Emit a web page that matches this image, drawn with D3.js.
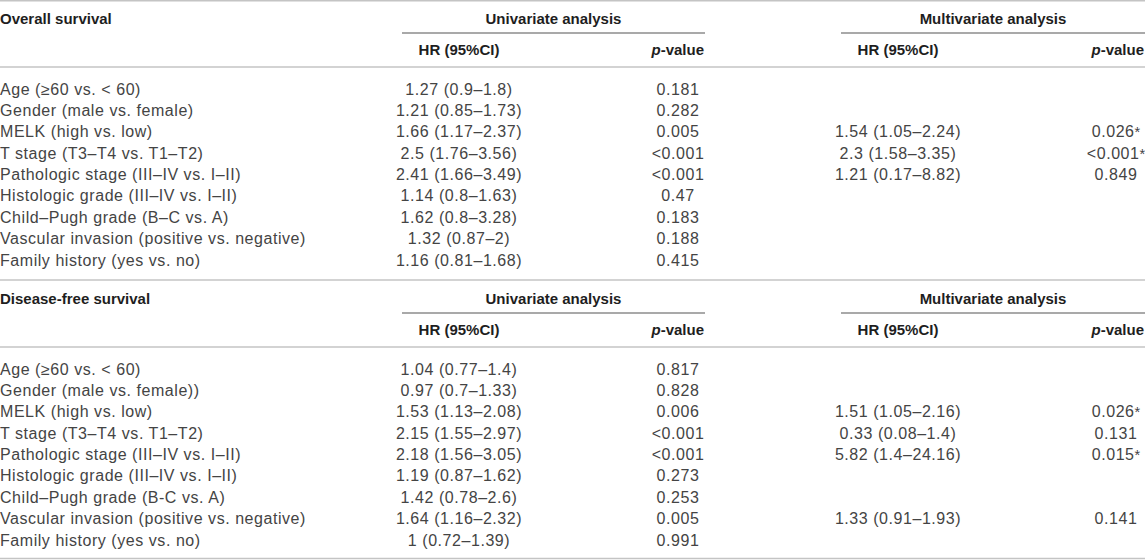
<!DOCTYPE html>
<html>
<head>
<meta charset="utf-8">
<script src="https://cdn.jsdelivr.net/npm/d3@7"></script>
<style>
  body { margin: 0; background: #fff; }
  svg { display: block; font-family: "Liberation Sans", Arial, Helvetica, sans-serif; }
  .cell { font-size: 16px; letter-spacing: 0.55px; fill: #444; }
  .head { font-size: 15px; font-weight: bold; fill: #1e1e1e; }
</style>
</head>
<body>
<svg id="table" width="1145" height="560"></svg>
<script>
// section titles
var sectionTitles = ["Overall survival", "Disease-free survival"];
var groupTitles = ["Univariate analysis", "Multivariate analysis"];
var colHeads = ["HR (95%CI)", "p-value"];

// overall survival
var osFactors = ["Age (\u226560 vs. < 60)", "Gender (male vs. female)", "MELK (high vs. low)",
  "T stage (T3\u2013T4 vs. T1\u2013T2)", "Pathologic stage (III\u2013IV vs. I\u2013II)",
  "Histologic grade (III\u2013IV vs. I\u2013II)", "Child\u2013Pugh grade (B\u2013C vs. A)",
  "Vascular invasion (positive vs. negative)", "Family history (yes vs. no)"];
var osUniHR = ["1.27 (0.9\u20131.8)", "1.21 (0.85\u20131.73)", "1.66 (1.17\u20132.37)", "2.5 (1.76\u20133.56)",
  "2.41 (1.66\u20133.49)", "1.14 (0.8\u20131.63)", "1.62 (0.8\u20133.28)", "1.32 (0.87\u20132)", "1.16 (0.81\u20131.68)"];
var osUniP = ["0.181", "0.282", "0.005", "<0.001", "<0.001", "0.47", "0.183", "0.188", "0.415"];
var osMultiHR = ["", "", "1.54 (1.05\u20132.24)", "2.3 (1.58\u20133.35)", "1.21 (0.17\u20138.82)", "", "", "", ""];
var osMultiP = ["", "", "0.026*", "<0.001*", "0.849", "", "", "", ""];

// disease-free survival
var dfsFactors = ["Age (\u226560 vs. < 60)", "Gender (male vs. female))", "MELK (high vs. low)",
  "T stage (T3\u2013T4 vs. T1\u2013T2)", "Pathologic stage (III\u2013IV vs. I\u2013II)",
  "Histologic grade (III\u2013IV vs. I\u2013II)", "Child\u2013Pugh grade (B-C vs. A)",
  "Vascular invasion (positive vs. negative)", "Family history (yes vs. no)"];
var dfsUniHR = ["1.04 (0.77\u20131.4)", "0.97 (0.7\u20131.33)", "1.53 (1.13\u20132.08)", "2.15 (1.55\u20132.97)",
  "2.18 (1.56\u20133.05)", "1.19 (0.87\u20131.62)", "1.42 (0.78\u20132.6)", "1.64 (1.16\u20132.32)", "1 (0.72\u20131.39)"];
var dfsUniP = ["0.817", "0.828", "0.006", "<0.001", "<0.001", "0.273", "0.253", "0.005", "0.991"];
var dfsMultiHR = ["", "", "1.51 (1.05\u20132.16)", "0.33 (0.08\u20131.4)", "5.82 (1.4\u201324.16)", "", "", "1.33 (0.91\u20131.93)", ""];
var dfsMultiP = ["", "", "0.026*", "0.131", "0.015*", "", "", "0.141", ""];

var sections = [
  { title: sectionTitles[0], factors: osFactors, cols: [osUniHR, osUniP, osMultiHR, osMultiP] },
  { title: sectionTitles[1], factors: dfsFactors, cols: [dfsUniHR, dfsUniP, dfsMultiHR, dfsMultiP] }
];

var W = 1145;
var svg = d3.select("#table");

// vertical layout
var ySection = d3.scaleBand().domain(d3.range(sections.length)).range([0, 560]);
var yRow = d3.scaleLinear().domain([0, 8]).range([94.5, 265.5]);

// column layout: centres of the value columns, span of each analysis group
var xCol = d3.scaleOrdinal().domain([0, 1, 2, 3]).range([459, 678, 898, 1116]);
var groupSpan = [[402, 705], [841, 1145]];

function hline(g, x1, x2, y, color, w) {
  g.append("line").attr("x1", x1).attr("x2", x2).attr("y1", y).attr("y2", y)
    .attr("stroke", color).attr("stroke-width", w);
}

var secG = svg.selectAll("g.section").data(sections).enter().append("g")
  .attr("class", "section")
  .attr("transform", function (d, i) { return "translate(0," + ySection(i) + ")"; });

secG.each(function (sec, si) {
  var g = d3.select(this);
  hline(g, 0, W, si === 0 ? 0.75 : 0, "#c4c4c4", 1.5);
  hline(g, 0, W, 67, "#c4c4c4", 1.5);

  g.append("text").attr("class", "head").attr("x", 0).attr("y", 24).text(sec.title);

  groupSpan.forEach(function (span, gi) {
    g.append("text").attr("class", "head").attr("text-anchor", "middle")
      .attr("x", (span[0] + span[1]) / 2).attr("y", 24).text(groupTitles[gi]);
    hline(g, span[0], span[1], 33, "#555", 1.2);
    g.append("text").attr("class", "head").attr("text-anchor", "middle")
      .attr("x", xCol(gi * 2)).attr("y", 55).text(colHeads[0]);
    var p = g.append("text").attr("class", "head").attr("text-anchor", "end")
      .attr("x", span[1] - 1).attr("y", 55);
    p.append("tspan").attr("font-style", "italic").text("p");
    p.append("tspan").text("-value");
  });

  g.selectAll("text.factor").data(sec.factors).enter().append("text")
    .attr("class", "cell factor").attr("x", 0)
    .attr("y", function (d, i) { return yRow(i); })
    .text(function (d) { return d; });

  sec.cols.forEach(function (col, ci) {
    var t = g.selectAll("text.c" + ci).data(col).enter().append("text")
      .attr("class", "cell c" + ci).attr("text-anchor", "middle")
      .attr("x", xCol(ci))
      .attr("y", function (d, i) { return yRow(i); });
    t.append("tspan").text(function (d) { return d.replace("*", ""); });
    t.filter(function (d) { return d.indexOf("*") >= 0; })
      .append("tspan").style("font-size", "14.5px").style("letter-spacing", "0px").text("*");
  });
});

hline(svg, 0, W, 558.5, "#c4c4c4", 1.5);
</script>
</body>
</html>
